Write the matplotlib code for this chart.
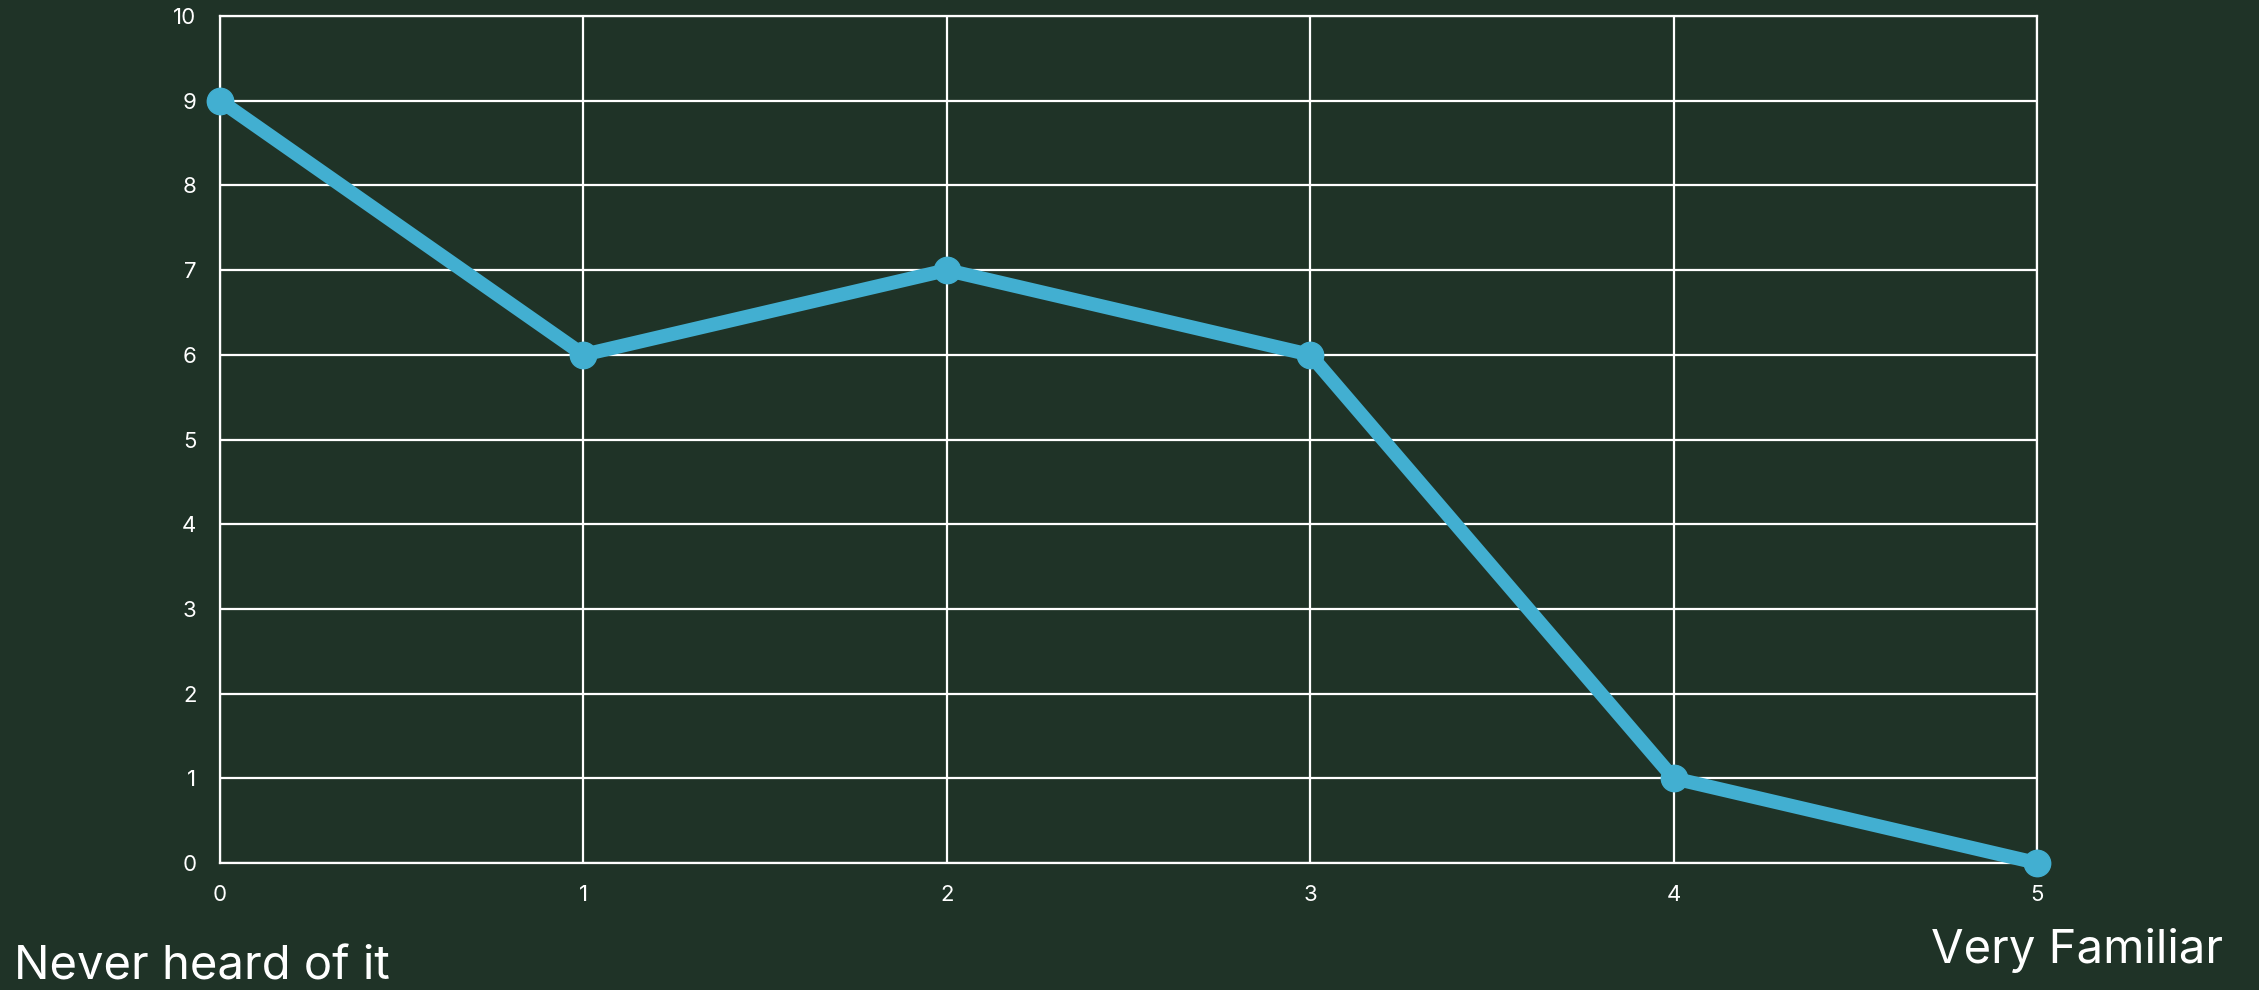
import matplotlib.pyplot as plt

# familiarity score vs number of responses
scores = [0, 1, 2, 3, 4, 5]
counts = [9, 6, 7, 6, 1, 0]
y_ticks = list(range(0, 11))
low_label = "Never heard of it"
high_label = "Very Familiar"

bg = "#1f3327"
line_col = "#42afd1"

plt.rcParams['font.family'] = ['Inter', 'DejaVu Sans']

fig = plt.figure(figsize=(22.59, 9.9), dpi=100, facecolor=bg)
ax = fig.add_axes([220 / 2259, 1 - 863 / 990, (2037 - 220) / 2259, (863 - 16) / 990])
ax.set_facecolor(bg)

ax.plot(scores, counts, color=line_col, lw=10, marker='o', ms=19,
        solid_capstyle='round', zorder=3, clip_on=False)

ax.set_xlim(0, 5)
ax.set_ylim(0, 10)
ax.set_xticks(scores)
ax.set_yticks(y_ticks)
ax.grid(True, color='white', lw=1.6)
for s in ax.spines.values():
    s.set_color('white')
    s.set_linewidth(1.6)
ax.tick_params(colors='white', labelsize=16, length=0)
ax.tick_params(axis='x', pad=16)
ax.tick_params(axis='y', pad=17)

fig.text(14 / 2259, 1 - 980 / 990, low_label, color='white', fontsize=34,
         ha='left', va='baseline')
fig.text(2223 / 2259, 1 - 963 / 990, high_label, color='white', fontsize=34,
         ha='right', va='baseline')

fig.savefig("out.png", dpi=100, facecolor=bg)
